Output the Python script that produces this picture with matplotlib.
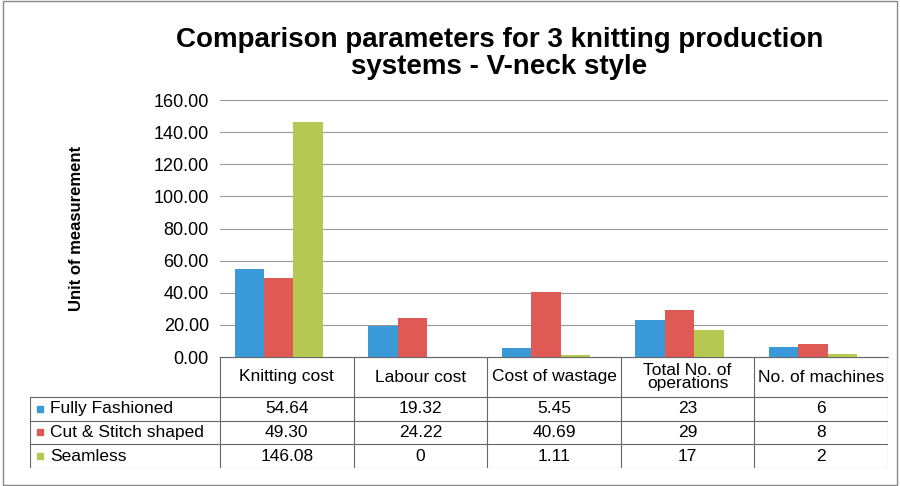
import matplotlib

matplotlib.use("Agg")
import matplotlib.pyplot as plt
import numpy as np

plt.rcParams["font.family"] = "Liberation Sans"

categories = ["Knitting cost", "Labour cost", "Cost of wastage", "Total No. of\noperations", "No. of machines"]
series_names = ["Fully Fashioned", "Cut & Stitch shaped", "Seamless"]
fully_fashioned = [54.64, 19.32, 5.45, 23, 6]
cut_stitch = [49.30, 24.22, 40.69, 29, 8]
seamless = [146.08, 0, 1.11, 17, 2]
table_text = [
    ["54.64", "19.32", "5.45", "23", "6"],
    ["49.30", "24.22", "40.69", "29", "8"],
    ["146.08", "0", "1.11", "17", "2"],
]
colors = ["#3a9ad9", "#e05a55", "#b5c952"]

W, H = 900, 486
fig = plt.figure(figsize=(9, 4.86), dpi=100)
fig.patch.set_facecolor("white")

x0, x1 = 220, 888
ytop, ybot = 100, 357
ax = fig.add_axes([x0 / W, 1 - ybot / H, (x1 - x0) / W, (ybot - ytop) / H])
x = np.arange(len(categories))
bw = 0.22
for i, vals in enumerate([fully_fashioned, cut_stitch, seamless]):
    ax.bar(x + (i - 1) * bw - 0.06, vals, bw, color=colors[i], zorder=3)
ax.set_xlim(-0.5, 4.5)
ax.set_ylim(0, 160)
ax.set_yticks(np.arange(0, 161, 20))
ax.set_yticklabels([f"{v:.2f}" for v in np.arange(0, 161, 20)], fontsize=13)
ax.set_xticks([])
ax.grid(axis="y", color="#999999", linewidth=0.8, zorder=0)
for s in ["top", "right", "left"]:
    ax.spines[s].set_visible(False)
ax.spines["bottom"].set_color("#999999")
ax.tick_params(axis="y", length=0, pad=8)
ax.set_ylabel("Unit of measurement", fontsize=12, fontweight="bold", labelpad=50)

# data table
tl, tb = 30, 468
cw = (x1 - x0) / 5
xl = -0.5 - (x0 - tl) / cw
tax = fig.add_axes([tl / W, 1 - tb / H, (x1 - tl) / W, (tb - ybot) / H])
tax.set_xlim(xl, 4.5)
tax.set_ylim(0, 111)
tax.axis("off")
lc = "#666666"
hdr_h = 40
row_h = (111 - hdr_h) / 3
for k in range(6):
    tax.plot([k - 0.5, k - 0.5], [0, 111], color=lc, lw=0.8)
tax.plot([xl, xl], [0, 111 - hdr_h], color=lc, lw=0.8)
tax.plot([-0.5, 4.5], [111, 111], color=lc, lw=0.8)
for r in range(4):
    y = r * row_h
    tax.plot([xl, 4.5], [y, y], color=lc, lw=0.8)
for j, c in enumerate(categories):
    tax.text(j, 111 - hdr_h / 2, c, ha="center", va="center", fontsize=12.5, linespacing=0.9)
for r, name in enumerate(series_names):
    yc = 111 - hdr_h - (r + 0.5) * row_h
    tax.add_patch(plt.Rectangle((xl + 0.05, yc - 3), 0.05, 6, color=colors[r]))
    tax.text(xl + 0.15, yc, name, ha="left", va="center", fontsize=12.5)
    for j in range(5):
        tax.text(j, yc, table_text[r][j], ha="center", va="center", fontsize=12.5)

fig.text(0.555, 0.89, "Comparison parameters for 3 knitting production\nsystems - V-neck style",
         ha="center", va="center", fontsize=20, fontweight="bold", linespacing=1.05)

border = plt.Rectangle((0.003, 0.003), 0.994, 0.994, transform=fig.transFigure,
                       fill=False, edgecolor="#888888", lw=1)
fig.patches.append(border)
fig.savefig("out.png", dpi=100)
